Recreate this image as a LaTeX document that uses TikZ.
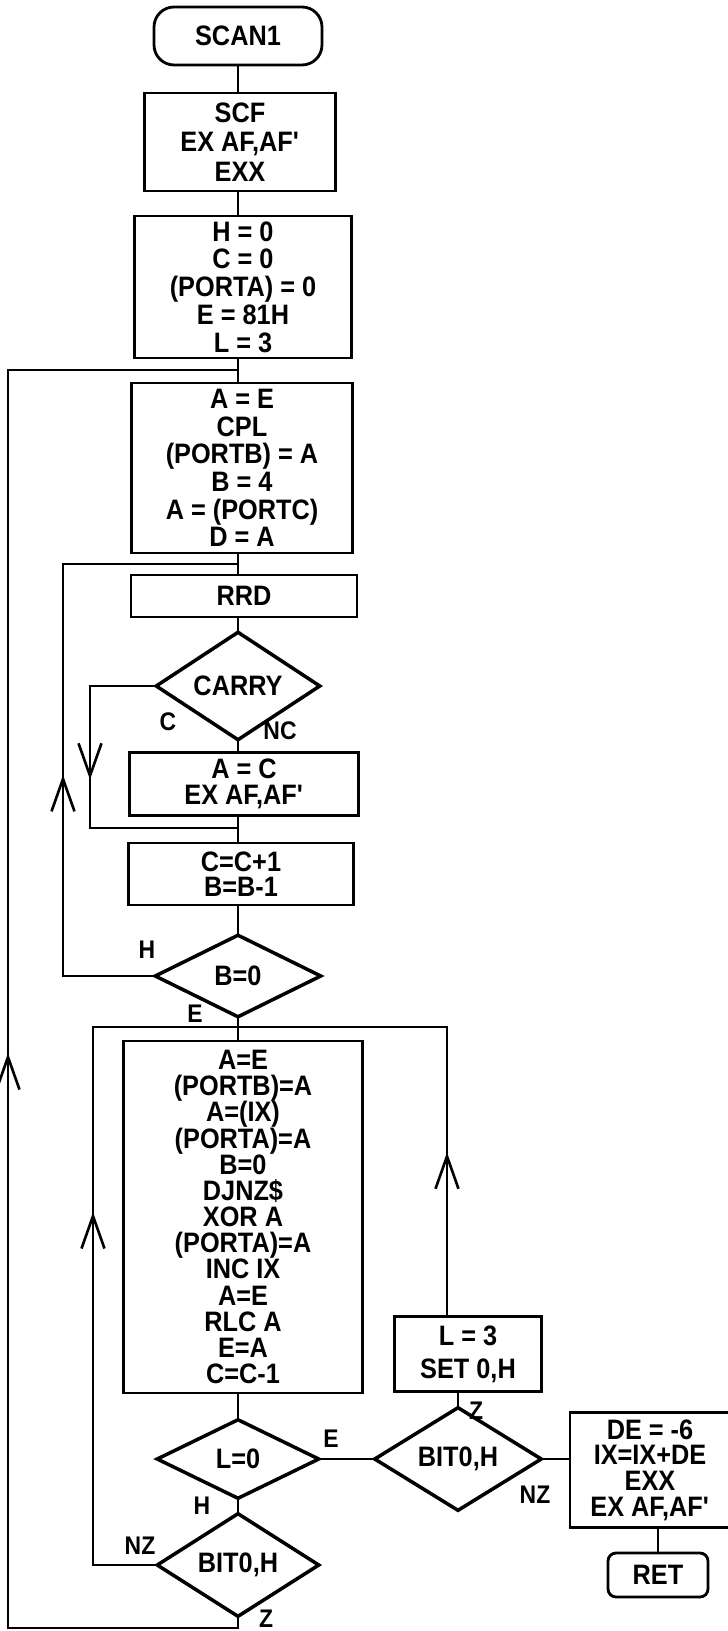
\documentclass[tikz,border=0pt]{standalone}
\usepackage{fontspec}
\setmainfont{Liberation Sans}[FakeStretch=0.9]
\usetikzlibrary{arrows.meta, shapes.geometric, decorations.markings}
\lineskiplimit=-20pt

\begin{document}
\begin{tikzpicture}[x=0.02cm, y=-0.02cm, line width=1.5pt, line cap=rect,
  txt/.style={font=\bfseries\fontsize{16}{#1}\selectfont, align=center},
  txt/.default=15,
  procbox/.style={draw, rectangle, inner sep=0pt, line width=1.6pt},
  termbox/.style={procbox, rounded corners=#1},
  decision/.style={draw, diamond, inner sep=0pt, line width=2pt},
  lbl/.style={font=\bfseries\fontsize{14.5}{14.5}\selectfont},
  midarrow/.style={postaction={decorate}, decoration={markings,
    mark=at position #1 with {\arrow{Straight Barb[length=6.5mm,width=4.6mm]}}}}]
  \useasboundingbox (0,0) rectangle (727,1631);
  \coordinate (trunk) at (238,0);

  % main column
  \node[termbox=0.4cm, minimum width=3.36cm, minimum height=1.16cm, txt] (scan) at (238,36) {SCAN1};
  \node[procbox, minimum width=3.82cm, minimum height=1.96cm, txt=16.8] (scf) at (240,142)
    {SCF\\EX AF,AF\textquotesingle\\EXX};
  \node[procbox, minimum width=4.34cm, minimum height=2.84cm, txt=15.8] (init) at (243,287)
    {H = 0\\C = 0\\(PORTA) = 0\\E = 81H\\L = 3};
  \node[procbox, minimum width=4.42cm, minimum height=3.40cm, txt=15.7] (ae) at (242,468)
    {A = E\\CPL\\(PORTB) = A\\B = 4\\A = (PORTC)\\D = A};
  \node[procbox, minimum width=4.52cm, minimum height=0.84cm, txt] (rrd) at (244,596) {RRD};
  \node[decision, minimum width=3.30cm, minimum height=1.64cm, txt] (carry) at (238,686) {CARRY};
  \node[procbox, minimum width=4.58cm, minimum height=1.26cm, txt=14.8] (ac) at (244,784)
    {A = C\\EX AF,AF\textquotesingle};
  \node[procbox, minimum width=4.50cm, minimum height=1.24cm, txt=14.2] (cinc) at (241,874)
    {C=C+1\\B=B-1};
  \node[decision, minimum width=3.34cm, minimum height=1.66cm, txt] (bzero) at (238,976) {B=0};
  \node[procbox, minimum width=4.78cm, minimum height=7.04cm, txt=14.9] (disp) at (243,1217)
    {A=E\\(PORTB)=A\\A=(IX)\\(PORTA)=A\\B=0\\DJNZ\$\\XOR A\\(PORTA)=A\\INC IX\\A=E\\RLC A\\E=A\\C=C-1};
  \node[decision, minimum width=3.26cm, minimum height=1.60cm, txt] (lzero) at (238,1459) {L=0};
  \node[decision, minimum width=3.26cm, minimum height=1.64cm, txt] (bitl) at (238,1565) {BIT0,H};

  % right column
  \node[procbox, minimum width=2.94cm, minimum height=1.50cm, txt=18.8] (lthree) at (468,1354)
    {L = 3\\SET 0,H};
  \node[decision, minimum width=3.36cm, minimum height=1.62cm, txt] (bitr) at (458,1459) {BIT0,H};
  \node[procbox, minimum width=3.20cm, minimum height=2.30cm, txt=14.6] (adj) at (650,1470)
    {DE = -6\\IX=IX+DE\\EXX\\EX AF,AF\textquotesingle};
  \node[termbox=0.16cm, minimum width=2cm, minimum height=0.88cm, txt] (ret) at (658,1575) {RET};

  % straight flow
  \draw (scan.south -| trunk) -- (scf.north -| trunk);
  \draw (scf.south -| trunk) -- (init.north -| trunk);
  \draw (init.south -| trunk) -- (ae.north -| trunk);
  \draw (ae.south -| trunk) -- (rrd.north -| trunk);
  \draw (rrd.south -| trunk) -- (carry.north);
  \draw (carry.south) -- (ac.north -| trunk);
  \draw (ac.south -| trunk) -- (cinc.north -| trunk);
  \draw (cinc.south -| trunk) -- (bzero.north);
  \draw (bzero.south) -- (disp.north -| trunk);
  \draw (disp.south -| trunk) -- (lzero.north);
  \draw (lzero.south) -- (bitl.north);
  \draw (lzero.east) -- (bitr.west);
  \draw (bitr.north) -- (bitr.north |- lthree.south);
  \draw (bitr.east) -- (bitr.east -| adj.west);
  \draw (ret.north |- adj.south) -- (ret.north);

  % loop junctions
  \coordinate (oj) at (238,370);   \coordinate (otop) at (8,370);  \coordinate (obot) at (8,1628);
  \coordinate (ij) at (238,564);   \coordinate (itop) at (63,564); \coordinate (ibot) at (63,976);
  \coordinate (cj) at (238,828);   \coordinate (cbot) at (90,828);
  \coordinate (ej) at (238,1027);  \coordinate (eleft) at (93,1027); \coordinate (eright) at (447,1027);

  % outer loop (Z)
  \draw (bitl.south) |- (obot);
  \draw[midarrow=0.457] (obot) -- (otop);
  \draw (otop) -- (oj);
  % B loop (NZ of B=0)
  \draw (bzero.west) -- (ibot);
  \draw[midarrow=0.488] (ibot) -- (itop);
  \draw (itop) -- (ij);
  % carry branch
  \draw (carry.west) -- (carry.west -| cbot);
  \draw[midarrow=0.66] (carry.west -| cbot) -- (cbot);
  \draw (cbot) -- (cj);
  % digit loop
  \draw (bitl.west) -- (bitl.west -| eleft);
  \draw[midarrow=0.656] (bitl.west -| eleft) -- (eleft);
  \draw (eleft) -- (eright);
  \draw[midarrow=0.565] (lthree.north -| eright) -- (eright);

  % branch labels
  \node[lbl] (lc)   at (168,722)  {C};
  \node[lbl] (lnc)  at (280,731)  {NC};
  \node[lbl] (lbh)  at (147,950)  {H};
  \node[lbl] (lbe)  at (195,1014) {E};
  \node[lbl] (lle)  at (331,1439) {E};
  \node[lbl] (llh)  at (202,1506) {H};
  \node[lbl] (lnzl) at (140,1546) {NZ};
  \node[lbl, anchor=base, inner sep=0pt] (lzl) at (266,1627) {Z};
  \node[lbl] (lzr)  at (476,1411) {Z};
  \node[lbl] (lnzr) at (535,1495) {NZ};
\end{tikzpicture}
\end{document}
